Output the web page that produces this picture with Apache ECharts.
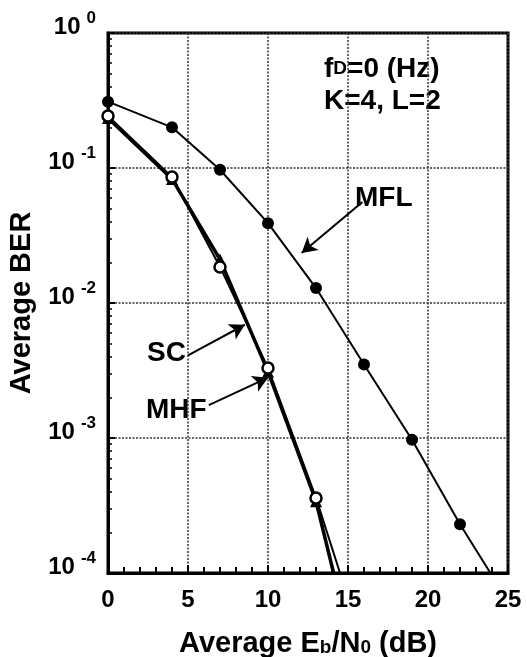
<!DOCTYPE html>
<html>
<head>
<meta charset="utf-8">
<script src="https://cdn.jsdelivr.net/npm/echarts@6/dist/echarts.min.js"></script>
<style>
  html, body { margin: 0; padding: 0; background: #fff; }
  #chart { width: 527px; height: 657px; }
</style>
</head>
<body>
<div id="chart"></div>
<script>
// Eb/N0 (dB) and BER
const snrMFL = [0, 4, 7, 10, 13, 16, 19, 22, 23.9];
const berMFL = [0.31, 0.2, 0.097, 0.039, 0.0129, 0.0035, 0.00097, 0.00023, 0.0001];

const snrSC = [0, 4, 7, 10, 13, 14.1];
const berSC = [0.235, 0.083, 0.021, 0.0031, 0.00034, 0.0001];

const snrMHF = [0, 4, 7, 10, 13, 14.5];
const berMHF = [0.243, 0.0857, 0.0185, 0.0033, 0.00036, 0.0001];

const FONT = 'Liberation Sans';

// last point of each curve is only where the line leaves the frame
function pts(xs, ys) {
    return xs.map((x, i) => {
        const p = { value: [x, ys[i]] };
        if (i === xs.length - 1) p.symbol = 'none';
        return p;
    });
}

const arrow = (from, to) => [{ coord: from }, { coord: to }];

const options = {
    animation: false,
    grid: {
        left: 108, right: 19, top: 33, bottom: 84,
        outerBoundsMode: 'none', containLabel: false,
        show: true, borderColor: '#000', borderWidth: 3
    },
    xAxis: {
        type: 'value', min: 0, max: 25, interval: 5,
        name: '{a|Average E}{s|b}{a|/N}{s|0}{a| (dB)}',
        nameLocation: 'middle', nameGap: 56,
        nameTextStyle: {
            rich: {
                a: { fontFamily: FONT, fontWeight: 'bold', fontSize: 29, color: '#000' },
                s: { fontFamily: FONT, fontWeight: 'bold', fontSize: 19, color: '#000', padding: [8, 0, 0, 0] }
            }
        },
        axisLine: { lineStyle: { color: '#000', width: 3 } },
        axisTick: { inside: true, length: 8, lineStyle: { color: '#000', width: 2 } },
        minorTick: { show: true, splitNumber: 5, length: 6, lineStyle: { color: '#000', width: 2 } },
        axisLabel: { fontFamily: FONT, fontWeight: 'bold', fontSize: 24, color: '#000', margin: 15 },
        splitLine: { lineStyle: { type: [2, 1.5], color: '#333', width: 1.5 } }
    },
    yAxis: {
        type: 'log', logBase: 10, min: 1e-4, max: 1,
        name: 'Average BER', nameLocation: 'middle', nameGap: 72,
        nameTextStyle: { fontFamily: FONT, fontWeight: 'bold', fontSize: 29, color: '#000' },
        axisLine: { lineStyle: { color: '#000', width: 3 } },
        axisTick: { inside: true, length: 7, lineStyle: { color: '#000', width: 2 } },
        minorTick: { show: true, splitNumber: 9, length: 4, lineStyle: { color: '#000', width: 1.5 } },
        axisLabel: {
            margin: 12,
            formatter: v => '{b|10}{e|' + Math.round(Math.log10(v)) + '}',
            rich: {
                b: { fontFamily: FONT, fontWeight: 'bold', fontSize: 24, color: '#000', padding: [0, 0, 12, 0] },
                e: { fontFamily: FONT, fontWeight: 'bold', fontSize: 17, color: '#000', padding: [0, 0, 30, 6] }
            }
        },
        splitLine: { lineStyle: { type: [2, 1.5], color: '#333', width: 1.5 } }
    },
    series: [
        {
            name: 'MFL', type: 'line', data: pts(snrMFL, berMFL),
            symbol: 'circle', symbolSize: 12,
            itemStyle: { color: '#000' },
            lineStyle: { color: '#000', width: 2 },
            markLine: {
                silent: true, symbol: ['none', 'arrow'], symbolSize: [13, 15],
                label: { show: false },
                lineStyle: { color: '#000', width: 2, type: 'solid' },
                data: [
                    arrow([15.9, 0.056], [12.1, 0.0235]),
                    arrow([5.0, 0.0041], [8.55, 0.0069]),
                    arrow([6.3, 0.00175], [10.0, 0.0028])
                ]
            }
        },
        {
            name: 'SC', type: 'line', data: pts(snrSC, berSC),
            symbol: 'triangle', symbolSize: 12,
            itemStyle: { color: '#000' },
            lineStyle: { color: '#000', width: 3.5 }
        },
        {
            name: 'MHF', type: 'line', data: pts(snrMHF, berMHF),
            symbol: 'circle', symbolSize: 11,
            itemStyle: { color: '#fff', borderColor: '#000', borderWidth: 2.5 },
            lineStyle: { color: '#000', width: 2 }
        }
    ],
    graphic: [
        {
            type: 'text', left: 324, top: 55,
            style: {
                text: '{a|f}{d|D}{a|=0 (Hz)}\n{a|K=4, L=2}',
                rich: {
                    a: { fontFamily: FONT, fontWeight: 'bold', fontSize: 28, fill: '#000', lineHeight: 32 },
                    d: { fontFamily: FONT, fontWeight: 'bold', fontSize: 19, fill: '#000', lineHeight: 32 }
                }
            }
        },
        { type: 'text', left: 355, top: 184, style: { text: 'MFL', font: 'bold 28px "Liberation Sans"', fill: '#000' } },
        { type: 'text', left: 147, top: 339, style: { text: 'SC', font: 'bold 28px "Liberation Sans"', fill: '#000' } },
        { type: 'text', left: 146, top: 396, style: { text: 'MHF', font: 'bold 28px "Liberation Sans"', fill: '#000' } }
    ]
};

const E = echarts.init(document.getElementById('chart'));
E.setOption(options);
</script>
</body>
</html>
